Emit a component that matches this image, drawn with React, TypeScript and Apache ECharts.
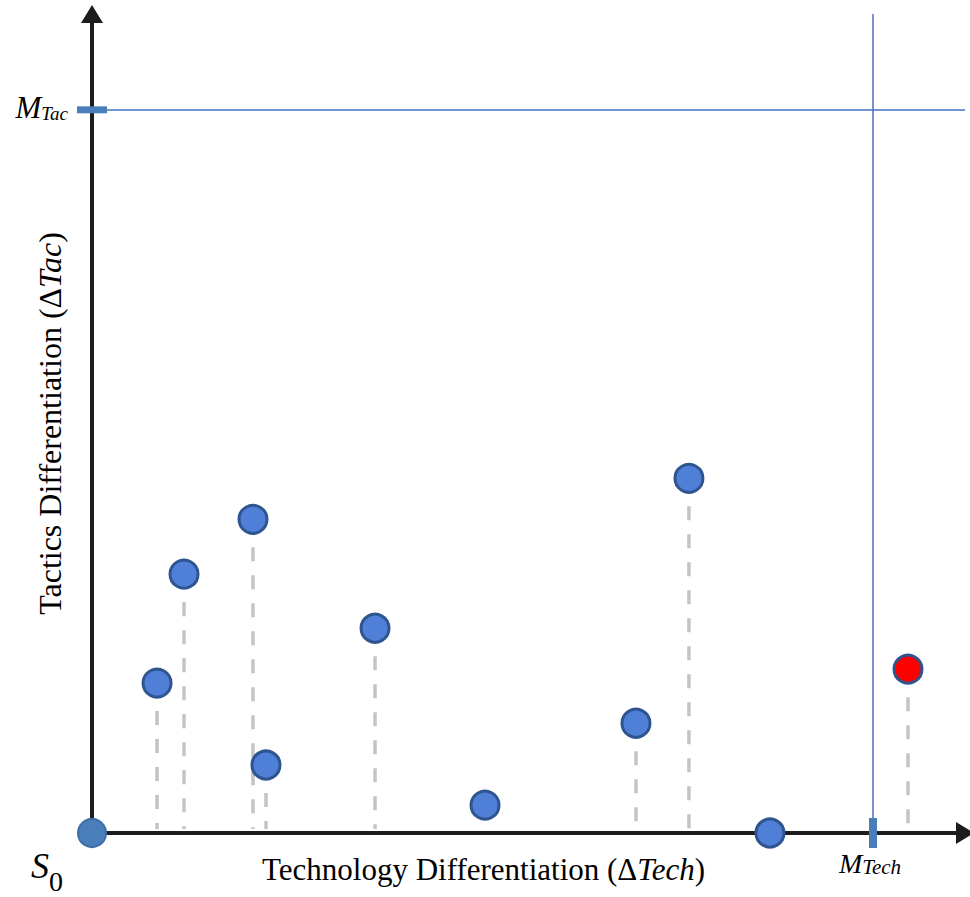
import React, { useEffect, useRef } from "react";
import * as echarts from "echarts";

// Technology differentiation (x) and tactics differentiation (y) of the blue states
const techDiff = [7.45, 10.54, 18.44, 19.93, 32.42, 45.02, 62.31, 68.38, 77.66];
const tacDiff = [18.3, 31.6, 38.3, 8.3, 25.0, 3.4, 13.4, 43.3, 0];
// highlighted (red) state
const redTech = [93.47];
const redTac = [20.0];
// origin state S0
const originTech = [0];
const originTac = [0];
// thresholds
const M_TECH = 89.46;
const M_TAC = 88.3;
const AXIS_MIN = 0;
const AXIS_MAX = 100;
const xAxisTitle = "Technology Differentiation (Δ{i|Tech})";
const yAxisTitle = "Tactics Differentiation (Δ{i|Tac})";
const mTacLabel = "{m|M}{s|Tac}";
const mTechLabel = "{m|M}{s|Tech}";
const originLabel = "{s|S}{z|0}";

const SERIF = "'Liberation Serif', 'Times New Roman', serif";

export default function App() {
  const ref = useRef<HTMLDivElement>(null);

  useEffect(() => {
    if (!ref.current) return;
    const chart = echarts.init(ref.current, undefined, { renderer: "svg" });

    const bluePts = techDiff.map((x, i) => [x, tacDiff[i]]);
    const redPts = redTech.map((x, i) => [x, redTac[i]]);
    const originPts = originTech.map((x, i) => [x, originTac[i]]);
    const stemPts = [...bluePts, ...redPts];

    const axisLine = {
      show: true,
      onZero: false,
      symbol: ["none", "triangle"],
      symbolSize: [22, 18],
      lineStyle: { color: "#1c1c1c", width: 4 },
    };

    chart.setOption({
      animation: false,
      grid: { left: 92, right: 5, top: 14, bottom: 64, containLabel: false },
      xAxis: {
        type: "value",
        min: AXIS_MIN,
        max: AXIS_MAX,
        axisLine,
        axisTick: { show: false },
        axisLabel: { show: false },
        splitLine: { show: false },
        name: xAxisTitle,
        nameLocation: "middle",
        nameGap: 21,
        nameTextStyle: {
          fontFamily: SERIF,
          fontSize: 31,
          color: "#000",
          padding: [0, 90, 0, 0],
          rich: { i: { fontFamily: SERIF, fontSize: 31, fontStyle: "italic", color: "#000" } },
        },
      },
      yAxis: {
        type: "value",
        min: AXIS_MIN,
        max: AXIS_MAX,
        axisLine,
        axisTick: { show: false },
        axisLabel: { show: false },
        splitLine: { show: false },
        name: yAxisTitle,
        nameLocation: "middle",
        nameGap: 26,
        nameTextStyle: {
          fontFamily: SERIF,
          fontSize: 32,
          color: "#000",
          rich: { i: { fontFamily: SERIF, fontSize: 32, fontStyle: "italic", color: "#000" } },
        },
      },
      series: [
        {
          type: "custom",
          z: 1,
          silent: true,
          data: stemPts,
          renderItem: (params: any, api: any) => {
            const top = api.coord([api.value(0), api.value(1)]);
            const base = api.coord([api.value(0), 0]);
            const endY = base[1] - 4;
            if (endY <= top[1]) return null;
            return {
              type: "line",
              shape: { x1: top[0], y1: top[1], x2: base[0], y2: endY },
              style: { stroke: "#C4C4C4", lineWidth: 3.5, lineDash: [14, 14] },
            };
          },
        },
        {
          type: "scatter",
          z: 3,
          clip: false,
          symbolSize: 28,
          data: bluePts,
          itemStyle: { color: "#4F7FD6", borderColor: "#2F5590", borderWidth: 3, opacity: 1 },
        },
        {
          type: "scatter",
          z: 3,
          clip: false,
          symbolSize: 28,
          data: redPts,
          itemStyle: { color: "#FF0000", borderColor: "#2F5590", borderWidth: 3, opacity: 1 },
        },
        {
          type: "scatter",
          z: 4,
          clip: false,
          symbolSize: 28,
          data: originPts,
          itemStyle: { color: "#4A7EBB", borderColor: "#3D6DA6", borderWidth: 2, opacity: 1 },
          label: {
            show: true,
            position: [-46, 30],
            formatter: originLabel,
            rich: {
              s: { fontFamily: SERIF, fontSize: 36, fontStyle: "italic", color: "#000", lineHeight: 36, verticalAlign: "top" },
              z: { fontFamily: SERIF, fontSize: 28, color: "#000", lineHeight: 47, verticalAlign: "bottom" },
            },
          },
          markLine: {
            silent: true,
            symbol: ["none", "none"],
            label: { show: false },
            lineStyle: { color: "#4472C4", width: 1.5, type: "solid" },
            data: [{ xAxis: M_TECH }, { yAxis: M_TAC }],
          },
          markPoint: {
            silent: true,
            itemStyle: { color: "#4A7EBB" },
            data: [
              {
                coord: [AXIS_MIN, M_TAC],
                symbol: "rect",
                symbolSize: [30, 7],
                label: {
                  show: true,
                  position: "left",
                  distance: 9,
                  offset: [0, -2],
                  formatter: mTacLabel,
                  rich: {
                    m: { fontFamily: SERIF, fontSize: 31, fontStyle: "italic", color: "#000", lineHeight: 31 },
                    s: { fontFamily: SERIF, fontSize: 19, fontStyle: "italic", color: "#000", verticalAlign: "bottom" },
                  },
                },
              },
              {
                coord: [M_TECH, AXIS_MIN],
                symbol: "rect",
                symbolSize: [8, 30],
                label: {
                  show: true,
                  position: "bottom",
                  distance: 1,
                  offset: [-3, 0],
                  formatter: mTechLabel,
                  rich: {
                    m: { fontFamily: SERIF, fontSize: 28, fontStyle: "italic", color: "#000", lineHeight: 28 },
                    s: { fontFamily: SERIF, fontSize: 21, fontStyle: "italic", color: "#000", verticalAlign: "bottom" },
                  },
                },
              },
            ],
          },
        },
      ],
    });

    return () => chart.dispose();
  }, []);

  return (
    <div
      ref={ref}
      style={{ position: "fixed", left: 0, top: 0, width: 970, height: 897, background: "#fff" }}
    />
  );
}
